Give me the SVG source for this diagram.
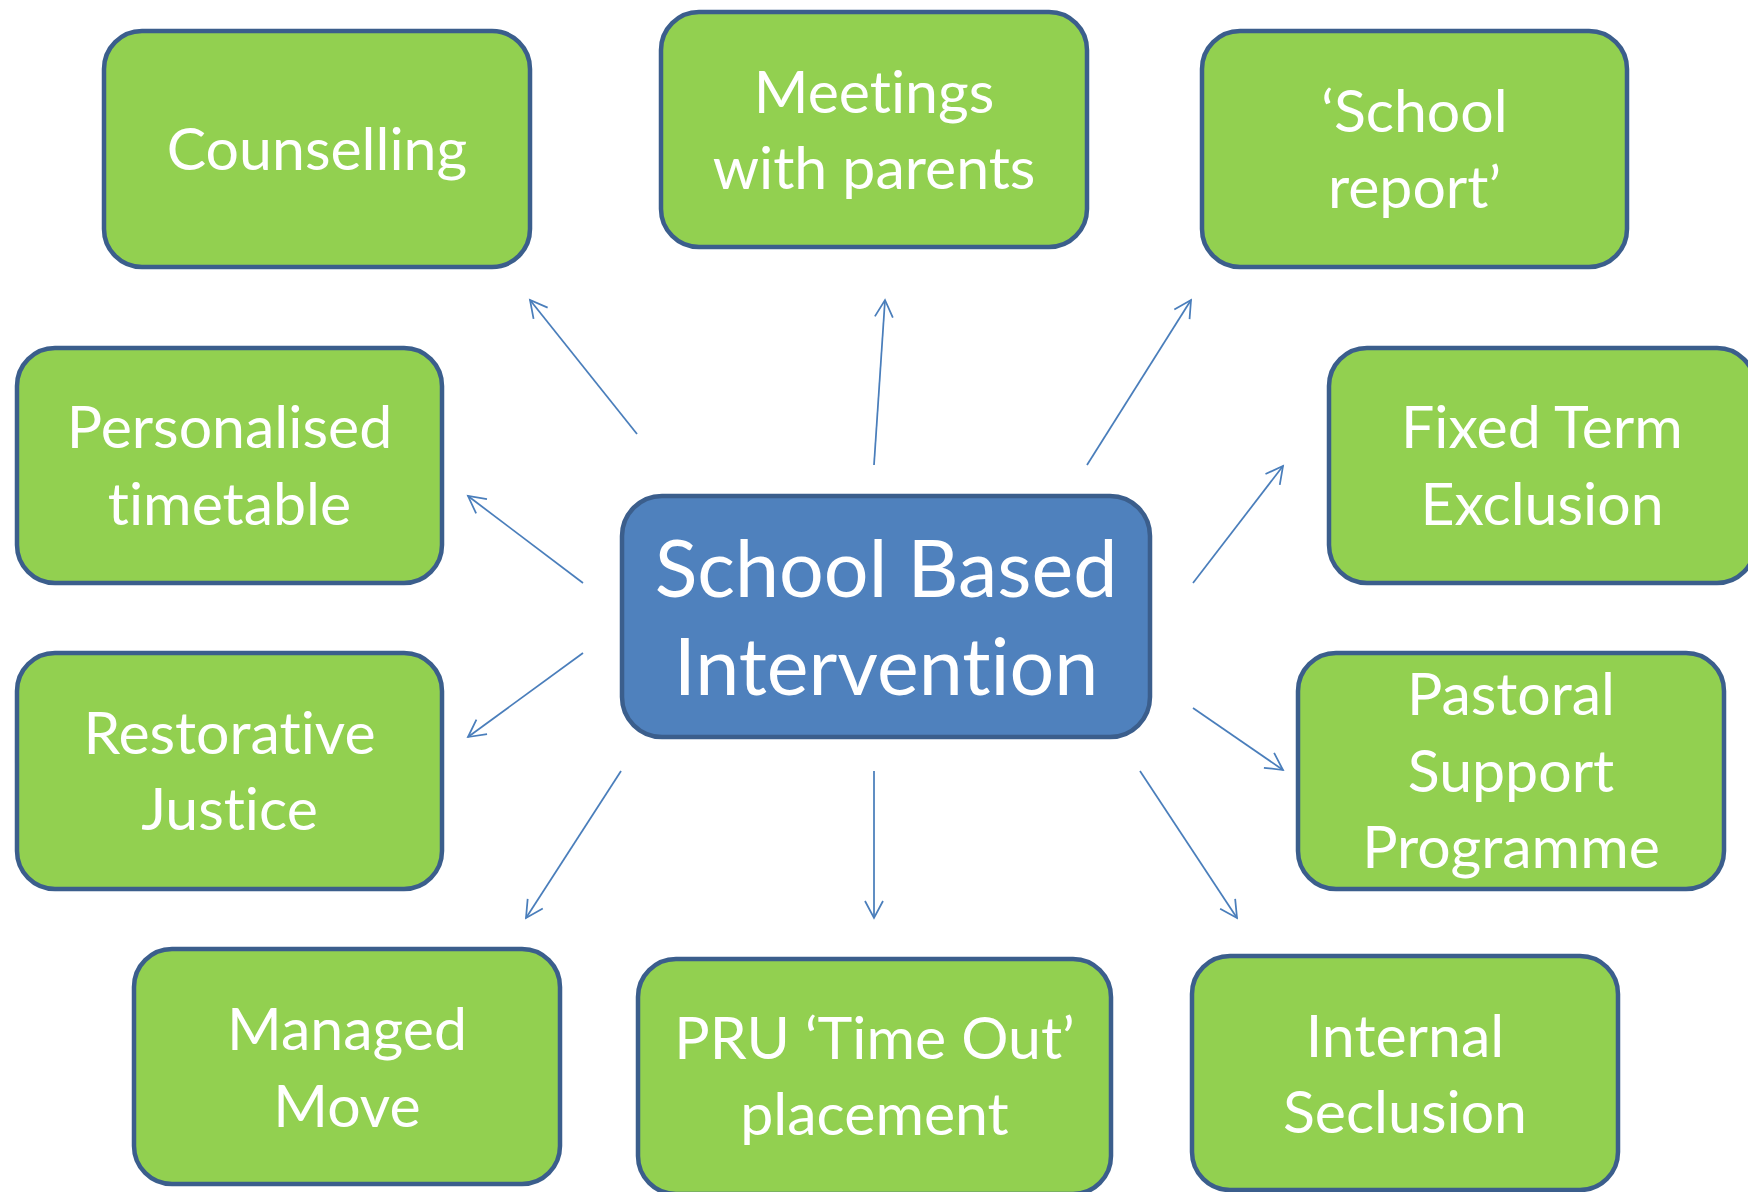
<svg xmlns="http://www.w3.org/2000/svg" width="1748" height="1192" viewBox="0 0 1748 1192">
<style>
.node rect{fill:#92D050;stroke:#3B5E8C;stroke-width:4.5}
.center rect{fill:#4F81BD;stroke:#3B5E8C;stroke-width:4.5}
text{fill:#FFFFFF;font-family:"Lato","Open Sans",sans-serif;text-anchor:middle;font-variant-ligatures:none;font-feature-settings:"liga" 0,"clig" 0}
.node text{font-size:59px}
.center text{font-size:79px}
.conn line{stroke:#4A7EBB;stroke-width:1.75;fill:none;marker-end:url(#arr)}
</style>
<defs>
<marker id="arr" markerUnits="userSpaceOnUse" viewBox="-20 -11 22 22" refX="0" refY="0" markerWidth="22" markerHeight="22" orient="auto" overflow="visible">
<path d="M-17,-9 L0,0 L-17,9" fill="none" stroke="#4A7EBB" stroke-width="1.75"/>
</marker>
</defs>
<rect width="1748" height="1192" fill="#FFFFFF"/>
<g id="connectors" class="conn">
<line x1="637" y1="434" x2="530" y2="300"/>
<line x1="874" y1="465" x2="885" y2="300"/>
<line x1="1087" y1="465" x2="1191" y2="300"/>
<line x1="583" y1="583" x2="468" y2="496"/>
<line x1="1193" y1="583" x2="1283" y2="466"/>
<line x1="583" y1="653" x2="468" y2="737"/>
<line x1="1193" y1="708" x2="1283" y2="770"/>
<line x1="621" y1="771" x2="526" y2="918"/>
<line x1="874" y1="771" x2="874" y2="918"/>
<line x1="1140" y1="771" x2="1237" y2="918"/>
</g>
<g id="center" class="center">
<rect x="622" y="496" width="528" height="241" rx="40"/>
<text x="886" y="597">School Based</text>
<text x="886" y="695">Intervention</text>
</g>
<g id="counselling" class="node">
<rect x="104" y="31" width="426" height="236" rx="38"/>
<text x="317" y="170">Counselling</text>
</g>
<g id="meetings" class="node">
<rect x="661" y="12" width="426" height="235" rx="38"/>
<text x="874" y="113">Meetings</text>
<text x="874" y="189">with parents</text>
</g>
<g id="school-report" class="node">
<rect x="1202" y="31" width="425" height="236" rx="38"/>
<text x="1414.5" y="132">‘School</text>
<text x="1414.5" y="208">report’</text>
</g>
<g id="personalised" class="node">
<rect x="17" y="348" width="425" height="235" rx="38"/>
<text x="229.5" y="448">Personalised</text>
<text x="229.5" y="525">timetable</text>
</g>
<g id="fixed-term" class="node">
<rect x="1329" y="348" width="426" height="235" rx="38"/>
<text x="1542" y="448">Fixed Term</text>
<text x="1542" y="525">Exclusion</text>
</g>
<g id="restorative" class="node">
<rect x="17" y="653" width="425" height="236" rx="38"/>
<text x="229.5" y="754">Restorative</text>
<text x="229.5" y="830">Justice</text>
</g>
<g id="pastoral" class="node">
<rect x="1298" y="653" width="426" height="236" rx="38"/>
<text x="1511" y="715">Pastoral</text>
<text x="1511" y="792">Support</text>
<text x="1511" y="868">Programme</text>
</g>
<g id="managed-move" class="node">
<rect x="134" y="949" width="426" height="235" rx="38"/>
<text x="347" y="1050">Managed</text>
<text x="347" y="1127">Move</text>
</g>
<g id="pru" class="node">
<rect x="638" y="959" width="473" height="235" rx="38"/>
<text x="874.5" y="1059">PRU ‘Time Out’</text>
<text x="874.5" y="1135">placement</text>
</g>
<g id="internal" class="node">
<rect x="1192" y="956" width="426" height="234" rx="38"/>
<text x="1405" y="1057">Internal</text>
<text x="1405" y="1133">Seclusion</text>
</g>
</svg>
